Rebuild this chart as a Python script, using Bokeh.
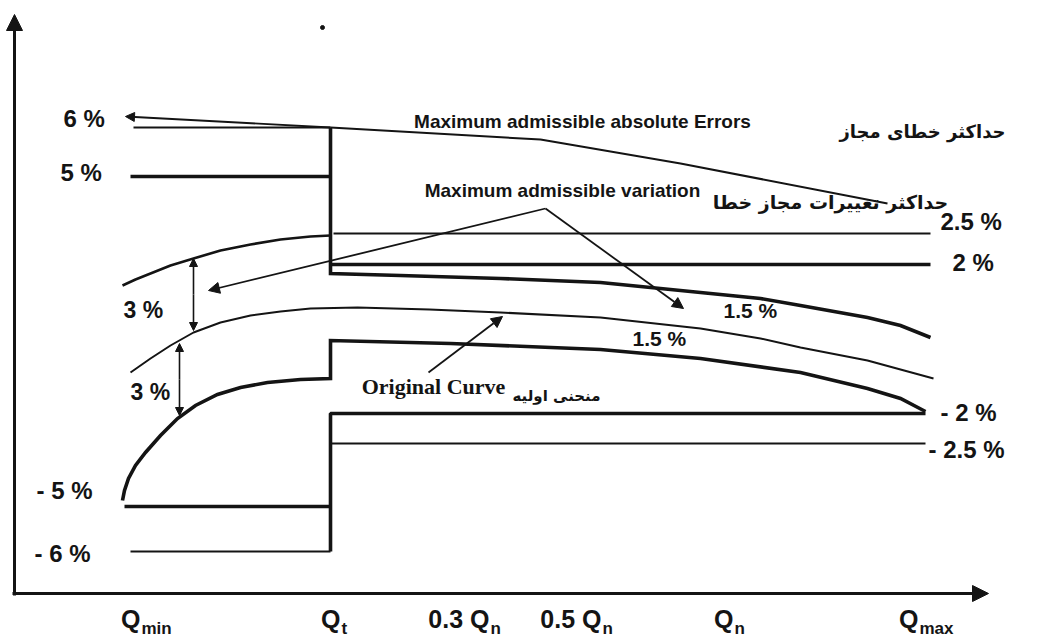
from bokeh.plotting import figure
from bokeh.models import Range1d, Arrow, NormalHead, ColumnDataSource
from bokeh.core.properties import value
from bokeh.embed import file_html
from bokeh.resources import INLINE

W, H = 1054, 637

# ---------------- data: schematic drawing units (y grows downward) ----------------
# flow-axis labels  (main part + subscript, subscript start position)
q_main = ["Q", "Q", "0.3 Q", "0.5 Q", "Q", "Q"]
q_sub = ["min", "t", "n", "n", "n", "max"]
q_pos = [141, 341, 490, 602, 734, 919]

# limit levels (vertical drawing units)
lvl_6, lvl_5, lvl_25, lvl_2 = 127, 176, 233, 264
lvl_m2, lvl_m25, lvl_m5, lvl_m6 = 413, 443, 506, 551

# flow positions
x_min_line = 130
x_qt = 330
x_max_line = 930

# curves
upper_left_x = [122, 135, 150, 170, 193, 220, 250, 280, 310, 330]
upper_left_y = [285, 279, 273, 265, 258, 250, 244, 239, 236, 235]

middle_x = [130, 140, 150, 170, 193, 220, 250, 280, 310, 357, 429, 500, 600, 700, 760, 800, 867, 933]
middle_y = [372, 365, 358, 345, 332, 322, 315, 311, 308, 307, 309, 312, 317, 328, 338, 347, 360, 378]

upper_thick_x = [330, 330, 400, 500, 600, 700, 760, 800, 867, 900, 930]
upper_thick_y = [127, 273, 275, 278, 282, 292, 298, 305, 317, 325, 337]

orig_x = [122, 124, 128, 135, 145, 160, 177, 195, 217, 240, 267, 300, 330, 330, 450, 600, 700, 800, 867, 900, 925]
orig_y = [500, 490, 478, 465, 452, 435, 418, 405, 394, 387, 382, 379, 378, 340, 343, 349, 358, 372, 388, 398, 411]

abs_err_x = [330, 540, 680, 887]
abs_err_y = [127, 139, 163, 203]

# percent labels
left_txt = ["6 %", "5 %", "- 5 %", "- 6 %"]
left_x = [63, 60, 36, 34]
left_y = [118, 172, 490, 553]

three_txt = ["3 %", "3 %"]
three_x = [123, 130]
three_y = [309, 391]

right_txt = ["2.5 %", "2 %", "- 2 %", "- 2.5 %"]
right_x = [940, 952, 940, 928]
right_y = [221, 262, 412, 449]

mid_txt = ["1.5 %", "1.5 %"]
mid_x = [723, 632]
mid_y = [310, 338]

# ---------------- figure ----------------
p = figure(width=W, height=H, x_range=Range1d(0, W), y_range=Range1d(H, 0),
           output_backend="svg", toolbar_location=None, min_border=0,
           x_axis_location=None, y_axis_location=None,
           background_fill_color="white", border_fill_color="white",
           outline_line_color=None)
p.grid.visible = False

INK = "#141414"
THICK, MED, THIN = 3.6, 2.6, 2.0

# coordinate axes as arrows
p.add_layout(Arrow(x_start=14, y_start=595, x_end=14, y_end=14, line_width=3, line_color=INK,
                   end=NormalHead(size=16, fill_color=INK, line_color=INK)))
p.add_layout(Arrow(x_start=12, y_start=593, x_end=988, y_end=593, line_width=3, line_color=INK,
                   end=NormalHead(size=16, fill_color=INK, line_color=INK)))

# limit lines
p.line([x_min_line + 3, x_qt], [lvl_6, lvl_6], line_width=THIN, line_color=INK)
p.line([x_min_line, x_qt], [lvl_5, lvl_5], line_width=THICK, line_color=INK)
p.line([x_qt + 3, x_max_line], [lvl_25, lvl_25], line_width=THIN, line_color=INK)
p.line([x_qt, x_max_line], [lvl_2, lvl_2], line_width=THICK, line_color=INK)
p.line([x_qt, x_qt, x_max_line - 5], [lvl_m6, lvl_m2, lvl_m2], line_width=THICK, line_color=INK)
p.line([x_qt, x_max_line - 5], [lvl_m25, lvl_m25], line_width=THIN, line_color=INK)
p.line([x_min_line - 6, x_qt], [lvl_m5, lvl_m5], line_width=THICK, line_color=INK)
p.line([x_min_line, x_qt], [lvl_m6, lvl_m6], line_width=THIN, line_color=INK)

# curves
p.line(upper_left_x, upper_left_y, line_width=MED, line_color=INK)
p.line(middle_x, middle_y, line_width=THIN, line_color=INK)
p.line(upper_thick_x, upper_thick_y, line_width=THICK, line_color=INK, line_join="miter")
p.line(orig_x, orig_y, line_width=THICK, line_color=INK, line_join="miter")
p.line(abs_err_x, abs_err_y, line_width=THIN, line_color=INK)

# pointer arrows
def arrow(x0, y0, x1, y1, size=10, lw=1.8):
    head = dict(size=size, fill_color=INK, line_color=INK)
    p.add_layout(Arrow(x_start=x0, y_start=y0, x_end=x1, y_end=y1, line_width=lw, line_color=INK,
                       end=NormalHead(**head)))

arrow(330, 127, 125, 116, size=9)
arrow(545, 208, 208, 290, size=11)
arrow(545, 208, 683, 308, size=11)
arrow(428, 372, 502, 316, size=11)
# double-headed span arrows, drawn from the middle
arrow(193, 294, 193, 258, size=8, lw=1.6)
arrow(193, 294, 193, 330, size=8, lw=1.6)
arrow(179, 379, 179, 343, size=8, lw=1.6)
arrow(179, 379, 179, 415, size=8, lw=1.6)

p.scatter([322], [27], size=4, color=INK)

# ---------------- texts ----------------
SANS = value("Liberation Sans")

def texts(xs, ys, ts, size, align="left", baseline="middle", font=SANS, style="bold"):
    src = ColumnDataSource(dict(x=xs, y=ys, t=ts))
    p.text(x="x", y="y", text="t", source=src, text_font=font, text_font_size=size,
           text_font_style=style, text_color=INK, text_align=align, text_baseline=baseline)

texts(left_x, left_y, left_txt, "24px")
texts(right_x, right_y, right_txt, "24px")
texts(three_x, three_y, three_txt, "23px")
texts(mid_x, mid_y, mid_txt, "21px")

texts([q - 1 for q in q_pos], [618] * 6, q_main, "25px", align="right", baseline="alphabetic")
texts(q_pos, [628] * 6, q_sub, "17px", align="left", baseline="alphabetic")

texts([582], [121], ["Maximum admissible absolute Errors"], "19px", align="center")
texts([562], [190], ["Maximum admissible variation"], "19px", align="center")
texts([433], [386], ["Original Curve"], "22px", align="center", font=value("Liberation Serif"))

FA = value("DejaVu Sans")
texts([922], [131], ["حداکثر خطای مجاز"], "18px", align="center", font=FA)
texts([830], [201], ["حداکثر تغییرات مجاز خطا"], "19px", align="center", font=FA)
texts([556], [395], ["منحنی اولیه"], "15px", align="center", font=FA)

open("out.html", "w").write(file_html(p, INLINE))
